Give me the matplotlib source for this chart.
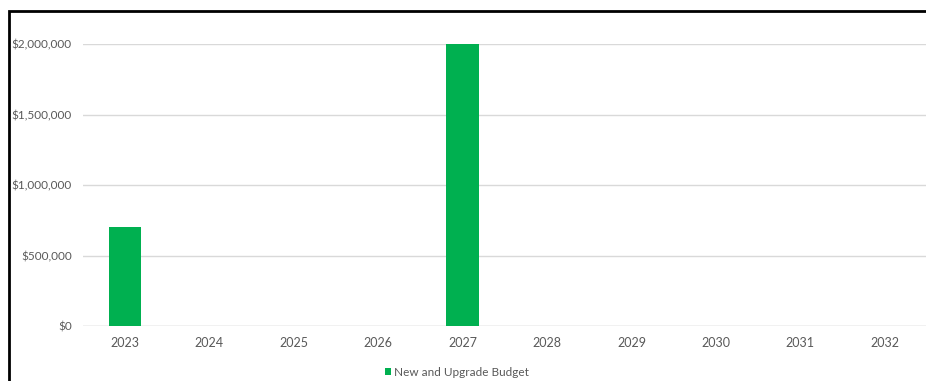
import matplotlib
matplotlib.use("Agg")
import matplotlib.pyplot as plt
from matplotlib.patches import Rectangle
from matplotlib.ticker import FuncFormatter

years = ["2023", "2024", "2025", "2026", "2027", "2028", "2029", "2030", "2031", "2032"]
budget = [700000, 0, 0, 0, 2000000, 0, 0, 0, 0, 0]
series_name = "New and Upgrade Budget"

plt.rcParams["font.family"] = ["Lato", "DejaVu Sans"]

W, H = 926, 381
fig = plt.figure(figsize=(W / 100, H / 100), dpi=100)
ax = fig.add_axes([82.8 / W, 1 - 326 / H, (927 - 82.8) / W, (326 - 44) / H])

x = list(range(len(years)))
ax.bar(x, budget, width=0.39, color="#00B050", zorder=3, label=series_name)

ax.set_xlim(-0.5, len(years) - 0.5)
ax.set_ylim(0, 2000000)
ax.set_yticks([0, 500000, 1000000, 1500000, 2000000])
ax.yaxis.set_major_formatter(FuncFormatter(lambda v, p: f"${v:,.0f}"))
ax.set_xticks(x)
ax.set_xticklabels(years)

ax.grid(axis="y", color="#D9D9D9", linewidth=1, zorder=0)
for s in ax.spines.values():
    s.set_visible(False)
ax.tick_params(axis="both", length=0, labelcolor="#595959")
ax.tick_params(axis="y", pad=8, labelsize=8.5)
ax.tick_params(axis="x", pad=8, labelsize=9)

# baseline at zero
ax.axhline(0, color="#D9D9D9", linewidth=1, zorder=1)

fig.legend(loc="center", bbox_to_anchor=(457 / W, 1 - 372 / H), frameon=False,
           fontsize=8.5, handlelength=0.5, handleheight=0.5, handletextpad=0.3,
           labelcolor="#595959")

# outer chart frame
fig.patches.append(Rectangle((9 / W, -0.1), 1.2, (1 - 11 / H) + 0.1,
                             transform=fig.transFigure, fill=False,
                             edgecolor="black", linewidth=2, zorder=10))

fig.savefig("out.png", dpi=100)
